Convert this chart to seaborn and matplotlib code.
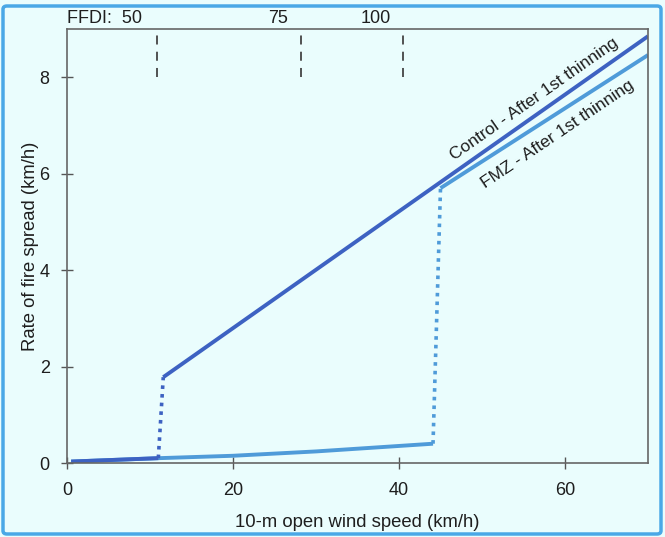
import matplotlib.pyplot as plt
import numpy as np
import pandas as pd
import seaborn as sns
from matplotlib.patches import FancyBboxPatch

# values
ctrl_low_x = [0.5, 11.0]
ctrl_low_y = [0.03, 0.10]
ctrl_jump_x = [11.0, 11.6]
ctrl_jump_y = [0.10, 1.78]
ctrl_high_x = [11.6, 70.0]
ctrl_high_y = [1.78, 8.85]

fmz_low_x = [0.5, 11.0, 20.0, 30.0, 44.1]
fmz_low_y = [0.03, 0.10, 0.15, 0.24, 0.40]
fmz_jump_x = [44.1, 45.0]
fmz_jump_y = [0.40, 5.70]
fmz_high_x = [45.0, 70.0]
fmz_high_y = [5.70, 8.46]

ffdi_x = [10.8, 28.2, 40.5]
ffdi_labels = ["FFDI:  50", "75", "100"]
ffdi_label_x = [0.0, 25.4, 37.2]

dark = "#3d62c2"
light = "#4f9bd9"
bg = "#eafdfd"

sns.set_theme(style="ticks")
plt.rcParams['font.family'] = ['Liberation Sans', 'DejaVu Sans']

fig, ax = plt.subplots(figsize=(6.65, 5.37), dpi=100)
fig.patch.set_facecolor(bg)
ax.set_facecolor(bg)
fig.subplots_adjust(left=67/665, right=648/665, bottom=1-463/537, top=1-29/537)

# blue frame around the picture
frame = FancyBboxPatch((3/665, 3/537), 1-7/665, 1-9/537, boxstyle="round,pad=0,rounding_size=0.006",
                       transform=fig.transFigure, fill=False, edgecolor="#4aa8e6", lw=2.5)
fig.patches.append(frame)

def seg(xs, ys, color, ls="-", lw=2.8):
    d = pd.DataFrame({"x": xs, "y": ys})
    sns.lineplot(data=d, x="x", y="y", ax=ax, color=color, lw=lw, linestyle=ls,
                 solid_capstyle="butt", dash_capstyle="butt", sort=False, estimator=None)

dots = (0, (1, 1.4))
seg(fmz_low_x, fmz_low_y, light)
seg(fmz_jump_x, fmz_jump_y, light, ls=dots, lw=2.6)
seg(fmz_high_x, fmz_high_y, light)
seg(ctrl_low_x, ctrl_low_y, dark)
seg(ctrl_jump_x, ctrl_jump_y, dark, ls=dots, lw=2.6)
seg(ctrl_high_x, ctrl_high_y, dark)

ax.vlines(ffdi_x, 8.0, 8.93, colors="#444444", linestyles=(0, (5, 4)), lw=1.3)
for lab, lx in zip(ffdi_labels, ffdi_label_x):
    ax.text(lx, 1.025, lab, transform=ax.get_xaxis_transform(), fontsize=13,
            ha="left" if lab.startswith("FFDI") else "center", va="center", color="#1e1e1e")

ax.text(56.3, 7.55, "Control - After 1st thinning", rotation=35, fontsize=12.5,
        ha="center", va="center", color="#1e1e1e", rotation_mode="anchor")
ax.text(59.1, 6.82, "FMZ - After 1st thinning", rotation=34, fontsize=12.5,
        ha="center", va="center", color="#1e1e1e", rotation_mode="anchor")

ax.set_xlim(0, 70)
ax.set_ylim(0, 9)
ax.set_xticks([0, 20, 40, 60])
ax.set_yticks([0, 2, 4, 6, 8])
ax.tick_params(direction="inout", length=9, width=1, colors="#555555", labelcolor="#1e1e1e", labelsize=13)
ax.tick_params(axis="y", pad=8)
ax.tick_params(axis="x", pad=9)
for s in ax.spines.values():
    s.set_color("#666666")
    s.set_linewidth(1.2)

ax.set_xlabel("10-m open wind speed (km/h)", fontsize=13.3, color="#1e1e1e")
ax.set_ylabel("Rate of fire spread (km/h)", fontsize=13.3, color="#1e1e1e")
ax.xaxis.set_label_coords(0.5, -0.118)
ax.yaxis.set_label_coords(-0.048, 0.5)

fig.savefig("out.png", dpi=100, facecolor=bg)
